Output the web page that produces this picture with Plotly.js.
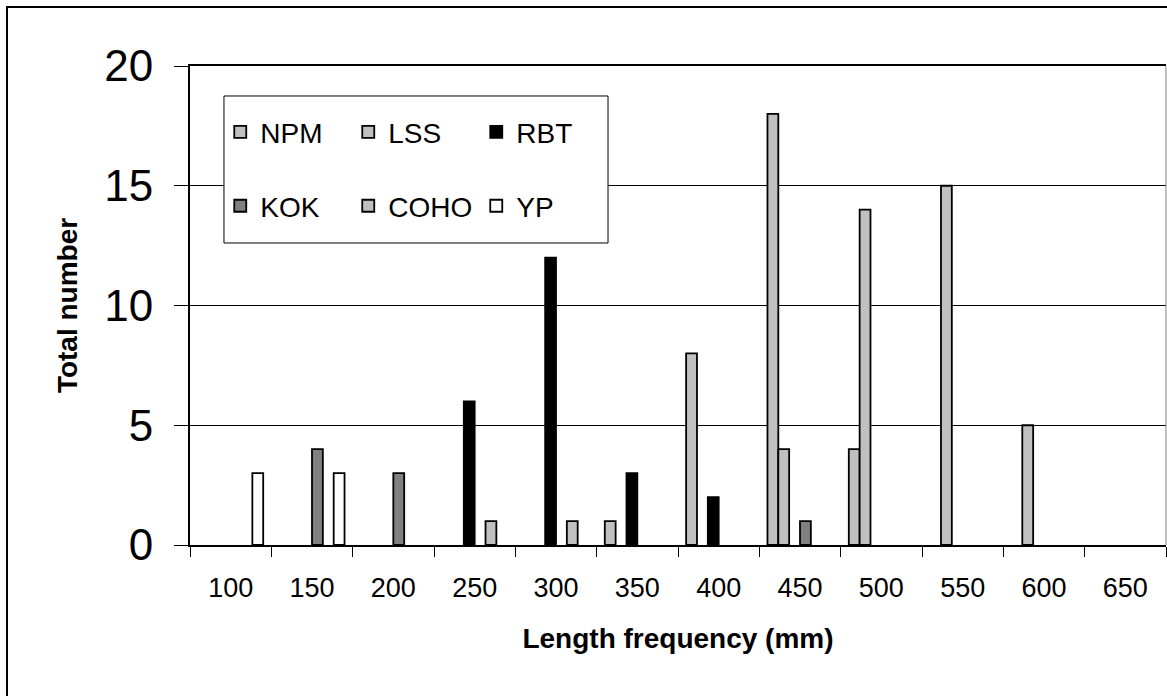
<!DOCTYPE html>
<html>
<head>
<meta charset="utf-8">
<script src="https://cdn.plot.ly/plotly-3.0.1.min.js"></script>
<style>
  html, body { margin: 0; padding: 0; background: #fff; }
  #chart { width: 1167px; height: 696px; }
</style>
</head>
<body>
<div id="chart"></div>
<script>
// Length classes (mm)
const categories = ['100','150','200','250','300','350','400','450','500','550','600','650'];
// Counts per species (null = no fish in that class)
const NPM  = [null, null, null, null, null, 1,    8,    18,   4,    null, null, null];
const LSS  = [null, null, null, null, null, null, null, 4,    14,   15,   5,    null];
const RBT  = [null, null, null, 6,    12,   3,    2,    null, null, null, null, null];
const KOK  = [null, 4,    3,    null, null, null, null, 1,    null, null, null, null];
const COHO = [null, null, null, 1,    1,    null, null, null, null, null, null, null];
const YP   = [3,    3,    null, null, null, null, null, null, null, null, null, null];

const seriesNames = ['NPM','LSS','RBT','KOK','COHO','YP'];
const seriesData  = [NPM, LSS, RBT, KOK, COHO, YP];
const seriesColors = ['#C0C0C0','#C0C0C0','#000000','#808080','#C0C0C0','#FFFFFF'];
const seriesLegend = ['legend','legend','legend','legend2','legend2','legend2'];

const FONT = 'Liberation Sans, Arial, Helvetica, sans-serif';

const traces = seriesNames.map((name, i) => ({
  type: 'bar',
  name: name,
  x: categories,
  y: seriesData[i],
  legend: seriesLegend[i],
  marker: { color: seriesColors[i], line: { color: '#000000', width: 1.8 } },
  hoverinfo: 'x+y+name'
}));

const legendCommon = {
  orientation: 'h',
  xanchor: 'left',
  yanchor: 'middle',
  entrywidth: 83,
  entrywidthmode: 'pixels',
  bgcolor: 'rgba(0,0,0,0)',
  borderwidth: 0,
  traceorder: 'normal',
  font: { family: FONT, size: 28, color: '#000' },
  itemclick: false, itemdoubleclick: false
};

const layout = {
  width: 1167,
  height: 696,
  margin: { l: 190, r: 1, t: 66, b: 151 },
  paper_bgcolor: '#ffffff',
  plot_bgcolor: '#ffffff',
  barmode: 'group',
  bargap: 0.2,
  bargroupgap: 0,
  showlegend: true,
  legend: Object.assign({}, legendCommon, { x: 0.031, y: 0.862 }),
  legend2: Object.assign({}, legendCommon, { x: 0.031, y: 0.7076 }),
  font: { family: FONT, color: '#000' },
  xaxis: {
    type: 'category',
    range: [-0.5, 11.5],
    tickson: 'boundaries',
    ticks: 'outside',
    ticklen: 10,
    tickwidth: 1,
    tickcolor: '#000',
    showline: true,
    linecolor: '#000',
    linewidth: 2,
    mirror: true,
    showgrid: false,
    tickfont: { family: FONT, size: 27, color: '#000' },
    ticklabelstandoff: 18,
    title: { text: '<b>Length frequency (mm)</b>', font: { family: FONT, size: 28, color: '#000' }, standoff: 26 }
  },
  yaxis: {
    range: [0, 20],
    tick0: 0,
    dtick: 5,
    ticks: 'outside',
    ticklen: 14,
    tickwidth: 1,
    tickcolor: '#000',
    showline: true,
    linecolor: '#000',
    linewidth: 2,
    showgrid: true,
    gridcolor: '#000',
    gridwidth: 1,
    zeroline: false,
    tickfont: { family: FONT, size: 44, color: '#000' },
    ticklabelstandoff: 12,
    title: { text: '<b>Total number</b>', font: { family: FONT, size: 28, color: '#000' }, standoff: 18 }
  },
  shapes: [
    // legend box
    { type: 'rect', xref: 'paper', yref: 'paper', x0: 0.0348, x1: 0.4283, y0: 0.6305, y1: 0.9374,
      line: { color: '#000', width: 1 }, fillcolor: '#ffffff', layer: 'above' },
    // right plot border (gray)
    { type: 'line', xref: 'paper', yref: 'paper', x0: 1, x1: 1, y0: 0, y1: 1,
      line: { color: '#808080', width: 1 }, layer: 'above' },
    // outer chart border
    { type: 'rect', xref: 'paper', yref: 'paper', x0: -0.1875, x1: 1.01, y0: -0.33, y1: 1.1232,
      line: { color: '#000', width: 2 }, fillcolor: 'rgba(0,0,0,0)', layer: 'above' }
  ]
};

Plotly.newPlot('chart', traces, layout, { displayModeBar: false });
</script>
</body>
</html>
